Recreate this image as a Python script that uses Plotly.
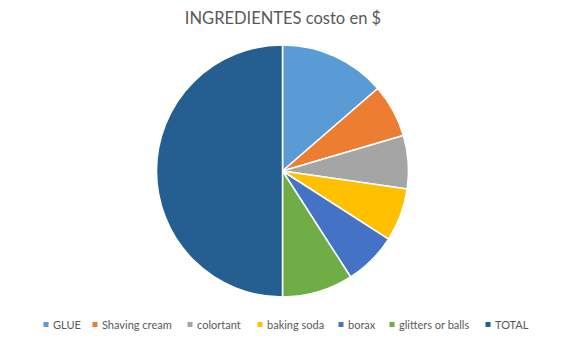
import plotly.graph_objects as go

labels = ["GLUE", "Shaving cream", "colortant", "baking soda", "borax", "glitters or balls", "TOTAL"]
values = [3, 1.5, 1.5, 1.5, 1.5, 2, 11]
colors = ["#5B9BD5", "#ED7D31", "#A5A5A5", "#FFC000", "#4472C4", "#70AD47", "#255E91"]

# legend layout (pixel x of each marker)
legend_marker_x = [46, 95, 190, 260, 341, 392, 488]

W, H = 570, 344
L, R, T, B = 0, 5, 45, 47
pw, ph = W - L - R, H - T - B

def px_to_paper_x(px):
    return (px - L) / pw

def px_to_paper_y(py):
    return (H - B - py) / ph

fig = go.Figure(go.Pie(
    labels=labels, values=values, sort=False, direction="clockwise", rotation=0,
    marker=dict(colors=colors, line=dict(color="white", width=1.5)),
    textinfo="none", hoverinfo="label+value", showlegend=False,
))

legend_y = 324.5
shapes = []
annotations = []
for lab, col, mx in zip(labels, colors, legend_marker_x):
    shapes.append(dict(type="rect", xref="paper", yref="paper",
                       x0=px_to_paper_x(mx - 2.5), x1=px_to_paper_x(mx + 2.5),
                       y0=px_to_paper_y(legend_y + 2.5), y1=px_to_paper_y(legend_y - 2.5),
                       fillcolor=col, line=dict(width=0)))
    annotations.append(dict(text=lab, xref="paper", yref="paper",
                            x=px_to_paper_x(mx + 5), y=px_to_paper_y(legend_y),
                            xanchor="left", yanchor="middle", showarrow=False,
                            font=dict(family="Lato", size=11, color="#595959")))

fig.update_layout(
    width=W, height=H,
    margin=dict(l=L, r=R, t=T, b=B),
    paper_bgcolor="white", plot_bgcolor="white",
    title=dict(text="INGREDIENTES costo en $", x=283 / W, xanchor="center", y=1 - 18 / H, yanchor="middle",
               font=dict(family="Lato", size=16.5, color="#595959")),
    shapes=shapes, annotations=annotations, showlegend=False,
)
fig.write_html("out.html")
